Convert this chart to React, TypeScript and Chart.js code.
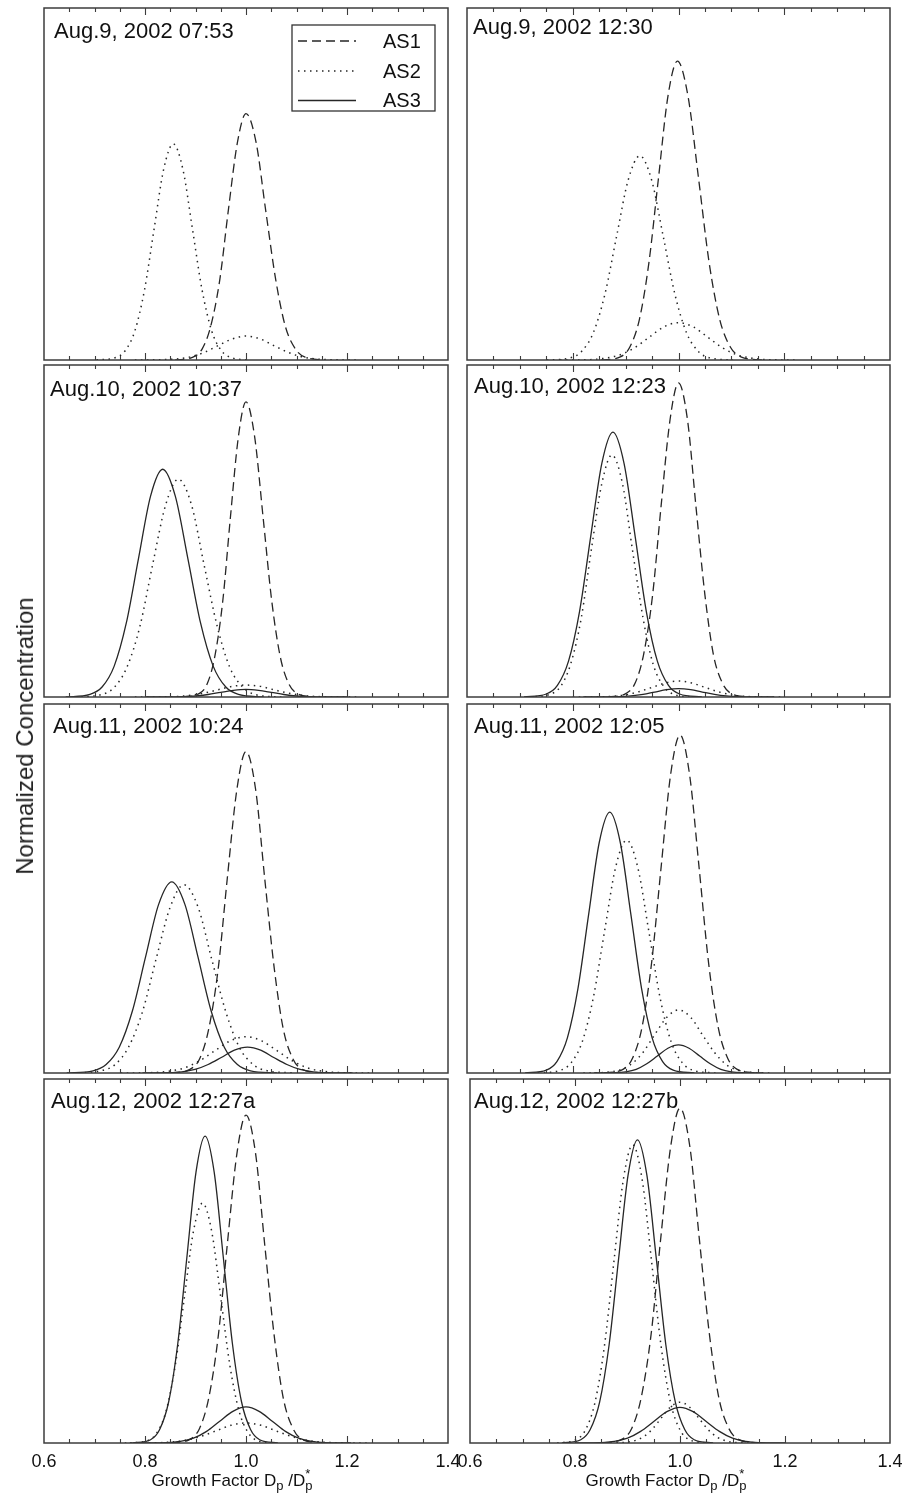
import React, { useEffect, useRef } from "react";
import { Chart, registerables } from "chart.js";

Chart.register(...registerables);

type Pt = [number, number];

// ---------- axis / labels ----------
const X_MIN = 0.6;
const X_MAX = 1.4;
const MAJOR_TICKS = [0.6, 0.8, 1.0, 1.2, 1.4];
const TICK_LABELS = ["0.6", "0.8", "1.0", "1.2", "1.4"];
const MINOR_TICKS = [0.65, 0.7, 0.75, 0.85, 0.9, 0.95, 1.05, 1.1, 1.15, 1.25, 1.3, 1.35];
const SERIES_NAMES = ["AS1", "AS2", "AS3"];
const Y_TITLE = "Normalized Concentration";
const PANEL_TITLES = [
  "Aug.9, 2002 07:53",
  "Aug.9, 2002 12:30",
  "Aug.10, 2002 10:37",
  "Aug.10, 2002 12:23",
  "Aug.11, 2002 10:24",
  "Aug.11, 2002 12:05",
  "Aug.12, 2002 12:27a",
  "Aug.12, 2002 12:27b",
];

// ---------- data: [growth factor, normalized concentration] ----------
const p1AS1: Pt[] = [[0.86,0],[0.895,0.008],[0.913,0.031],[0.93,0.095],[0.948,0.227],[0.965,0.425],[0.983,0.618],[1.0,0.7],[1.02,0.618],[1.039,0.425],[1.059,0.227],[1.078,0.095],[1.098,0.031],[1.117,0.008],[1.156,0]];
const p1AS2a: Pt[] = [[0.704,0],[0.742,0.007],[0.761,0.027],[0.78,0.083],[0.799,0.199],[0.818,0.372],[0.837,0.542],[0.856,0.614],[0.875,0.542],[0.894,0.372],[0.913,0.199],[0.932,0.083],[0.951,0.027],[0.97,0.007],[1.008,0]];
const p1AS2b: Pt[] = [[0.78,0],[0.835,0.001],[0.863,0.003],[0.89,0.009],[0.918,0.022],[0.945,0.041],[0.973,0.06],[1.0,0.068],[1.028,0.06],[1.055,0.041],[1.083,0.022],[1.11,0.009],[1.138,0.003],[1.165,0.001],[1.22,0]];

const p2AS1: Pt[] = [[0.854,0],[0.89,0.009],[0.908,0.037],[0.926,0.115],[0.944,0.276],[0.962,0.515],[0.98,0.749],[0.998,0.849],[1.018,0.749],[1.038,0.515],[1.058,0.276],[1.078,0.115],[1.098,0.037],[1.118,0.009],[1.158,0]];
const p2AS2a: Pt[] = [[0.751,0],[0.795,0.006],[0.817,0.025],[0.839,0.078],[0.861,0.188],[0.883,0.352],[0.905,0.512],[0.927,0.58],[0.949,0.512],[0.971,0.352],[0.993,0.188],[1.015,0.078],[1.037,0.025],[1.059,0.006],[1.103,0]];
const p2AS2b: Pt[] = [[0.776,0],[0.832,0.001],[0.86,0.005],[0.888,0.014],[0.916,0.034],[0.944,0.064],[0.972,0.094],[1.0,0.106],[1.028,0.094],[1.056,0.064],[1.084,0.034],[1.112,0.014],[1.14,0.005],[1.168,0.001],[1.224,0]];

const p3AS1: Pt[] = [[0.876,0],[0.907,0.01],[0.923,0.039],[0.938,0.12],[0.954,0.289],[0.969,0.539],[0.985,0.785],[1.0,0.889],[1.017,0.785],[1.034,0.539],[1.051,0.289],[1.068,0.12],[1.085,0.039],[1.102,0.01],[1.136,0]];
const p3AS3a: Pt[] = [[0.643,0],[0.691,0.008],[0.715,0.03],[0.739,0.093],[0.763,0.223],[0.787,0.416],[0.811,0.605],[0.835,0.686],[0.86,0.605],[0.885,0.416],[0.91,0.223],[0.935,0.093],[0.96,0.03],[0.985,0.008],[1.035,0]];
const p3AS2a: Pt[] = [[0.662,0],[0.713,0.007],[0.739,0.029],[0.764,0.089],[0.79,0.213],[0.815,0.398],[0.841,0.579],[0.866,0.656],[0.892,0.579],[0.917,0.398],[0.943,0.213],[0.968,0.089],[0.994,0.029],[1.019,0.007],[1.07,0]];
const p3AS2b: Pt[] = [[0.78,0],[0.835,0.0004],[0.863,0.0016],[0.89,0.005],[0.918,0.012],[0.945,0.022],[0.973,0.032],[1.0,0.036],[1.028,0.032],[1.055,0.022],[1.083,0.012],[1.11,0.005],[1.138,0.0016],[1.165,0.0004],[1.22,0]];
const p3AS3b: Pt[] = [[0.8,0],[0.85,0.0003],[0.875,0.001],[0.9,0.003],[0.925,0.0075],[0.95,0.014],[0.975,0.02],[1.0,0.023],[1.025,0.02],[1.05,0.014],[1.075,0.0075],[1.1,0.003],[1.125,0.001],[1.15,0.0003],[1.2,0]];

const p4AS1: Pt[] = [[0.868,0],[0.901,0.011],[0.918,0.042],[0.934,0.128],[0.951,0.307],[0.967,0.574],[0.984,0.835],[1.0,0.946],[1.017,0.835],[1.033,0.574],[1.05,0.307],[1.066,0.128],[1.083,0.042],[1.099,0.011],[1.132,0]];
const p4AS3a: Pt[] = [[0.708,0],[0.75,0.009],[0.771,0.035],[0.792,0.108],[0.813,0.259],[0.834,0.484],[0.855,0.704],[0.876,0.798],[0.897,0.704],[0.918,0.484],[0.939,0.259],[0.96,0.108],[0.981,0.035],[1.002,0.009],[1.044,0]];
const p4AS2a: Pt[] = [[0.718,0],[0.757,0.008],[0.777,0.032],[0.796,0.099],[0.816,0.237],[0.835,0.442],[0.855,0.643],[0.874,0.729],[0.894,0.643],[0.913,0.442],[0.933,0.237],[0.952,0.099],[0.972,0.032],[0.991,0.008],[1.03,0]];
const p4AS2b: Pt[] = [[0.8,0],[0.85,0.0005],[0.875,0.002],[0.9,0.0065],[0.925,0.016],[0.95,0.029],[0.975,0.042],[1.0,0.048],[1.025,0.042],[1.05,0.029],[1.075,0.016],[1.1,0.0065],[1.125,0.002],[1.15,0.0005],[1.2,0]];
const p4AS3b: Pt[] = [[0.82,0],[0.865,0.0003],[0.888,0.0011],[0.91,0.0034],[0.933,0.008],[0.955,0.015],[0.978,0.022],[1.0,0.025],[1.023,0.022],[1.045,0.015],[1.068,0.008],[1.09,0.0034],[1.113,0.0011],[1.135,0.0003],[1.18,0]];

const p5AS1: Pt[] = [[0.852,0],[0.889,0.01],[0.908,0.038],[0.926,0.118],[0.945,0.283],[0.963,0.528],[0.982,0.769],[1.0,0.871],[1.019,0.769],[1.037,0.528],[1.056,0.283],[1.074,0.118],[1.093,0.038],[1.111,0.01],[1.148,0]];
const p5AS3a: Pt[] = [[0.645,0],[0.697,0.006],[0.723,0.023],[0.749,0.07],[0.775,0.168],[0.801,0.314],[0.827,0.457],[0.853,0.518],[0.879,0.457],[0.905,0.314],[0.931,0.168],[0.957,0.07],[0.983,0.023],[1.009,0.006],[1.061,0]];
const p5AS2a: Pt[] = [[0.657,0],[0.712,0.006],[0.74,0.022],[0.767,0.069],[0.795,0.166],[0.822,0.309],[0.85,0.45],[0.877,0.51],[0.905,0.45],[0.932,0.309],[0.96,0.166],[0.987,0.069],[1.015,0.022],[1.042,0.006],[1.097,0]];
const p5AS3b: Pt[] = [[0.795,0],[0.847,0.0008],[0.873,0.003],[0.899,0.0095],[0.925,0.023],[0.951,0.042],[0.977,0.062],[1.003,0.07],[1.029,0.062],[1.055,0.042],[1.081,0.023],[1.107,0.0095],[1.133,0.003],[1.159,0.0008],[1.211,0]];
const p5AS2b: Pt[] = [[0.752,0],[0.814,0.0011],[0.845,0.0043],[0.876,0.013],[0.907,0.032],[0.938,0.06],[0.969,0.087],[1.0,0.0985],[1.031,0.087],[1.062,0.06],[1.093,0.032],[1.124,0.013],[1.155,0.0043],[1.186,0.0011],[1.248,0]];

const p6AS1: Pt[] = [[0.859,0],[0.895,0.01],[0.913,0.04],[0.931,0.124],[0.949,0.297],[0.967,0.556],[0.985,0.808],[1.003,0.916],[1.021,0.808],[1.039,0.556],[1.057,0.297],[1.075,0.124],[1.093,0.04],[1.111,0.01],[1.147,0]];
const p6AS3a: Pt[] = [[0.71,0],[0.75,0.008],[0.77,0.031],[0.79,0.096],[0.81,0.23],[0.83,0.429],[0.85,0.624],[0.87,0.707],[0.89,0.624],[0.91,0.429],[0.93,0.23],[0.95,0.096],[0.97,0.031],[0.99,0.008],[1.03,0]];
const p6AS2a: Pt[] = [[0.734,0],[0.776,0.007],[0.797,0.028],[0.818,0.085],[0.839,0.205],[0.86,0.383],[0.881,0.557],[0.902,0.631],[0.923,0.557],[0.944,0.383],[0.965,0.205],[0.986,0.085],[1.007,0.028],[1.028,0.007],[1.07,0]];
const p6AS2b: Pt[] = [[0.82,0],[0.865,0.002],[0.888,0.0075],[0.91,0.023],[0.933,0.056],[0.955,0.104],[0.978,0.151],[1.0,0.171],[1.023,0.151],[1.045,0.104],[1.068,0.056],[1.09,0.023],[1.113,0.0075],[1.135,0.002],[1.18,0]];
const p6AS3b: Pt[] = [[0.84,0],[0.88,0.0008],[0.9,0.0033],[0.92,0.01],[0.94,0.025],[0.96,0.046],[0.98,0.067],[1.0,0.076],[1.02,0.067],[1.04,0.046],[1.06,0.025],[1.08,0.01],[1.1,0.0033],[1.12,0.0008],[1.16,0]];

const p7AS1: Pt[] = [[0.852,0],[0.889,0.01],[0.908,0.04],[0.926,0.122],[0.945,0.293],[0.963,0.546],[0.982,0.795],[1.0,0.901],[1.019,0.795],[1.037,0.546],[1.056,0.293],[1.074,0.122],[1.093,0.04],[1.111,0.01],[1.148,0]];
const p7AS3a: Pt[] = [[0.775,0],[0.811,0.009],[0.829,0.037],[0.847,0.114],[0.865,0.274],[0.883,0.511],[0.901,0.744],[0.919,0.843],[0.937,0.744],[0.955,0.511],[0.973,0.274],[0.991,0.114],[1.009,0.037],[1.027,0.009],[1.063,0]];
const p7AS2a: Pt[] = [[0.77,0],[0.806,0.007],[0.824,0.029],[0.842,0.089],[0.86,0.214],[0.878,0.4],[0.896,0.582],[0.914,0.659],[0.932,0.582],[0.95,0.4],[0.968,0.214],[0.986,0.089],[1.004,0.029],[1.022,0.007],[1.058,0]];
const p7AS3b: Pt[] = [[0.792,0],[0.844,0.0011],[0.87,0.0043],[0.896,0.0134],[0.922,0.032],[0.948,0.06],[0.974,0.087],[1.0,0.099],[1.026,0.087],[1.052,0.06],[1.078,0.032],[1.104,0.0134],[1.13,0.0043],[1.156,0.0011],[1.208,0]];
const p7AS2b: Pt[] = [[0.76,0],[0.82,0.0006],[0.85,0.0024],[0.88,0.0074],[0.91,0.018],[0.94,0.033],[0.97,0.0485],[1.0,0.055],[1.03,0.0485],[1.06,0.033],[1.09,0.018],[1.12,0.0074],[1.15,0.0024],[1.18,0.0006],[1.24,0]];

const p8AS1: Pt[] = [[0.852,0],[0.889,0.01],[0.908,0.04],[0.926,0.124],[0.945,0.299],[0.963,0.558],[0.982,0.812],[1.0,0.92],[1.019,0.812],[1.037,0.558],[1.056,0.299],[1.074,0.124],[1.093,0.04],[1.111,0.01],[1.148,0]];
const p8AS3a: Pt[] = [[0.775,0],[0.811,0.009],[0.829,0.037],[0.847,0.113],[0.865,0.27],[0.883,0.505],[0.901,0.735],[0.919,0.833],[0.937,0.735],[0.955,0.505],[0.973,0.27],[0.991,0.113],[1.009,0.037],[1.027,0.009],[1.063,0]];
const p8AS2a: Pt[] = [[0.766,0],[0.802,0.009],[0.82,0.036],[0.838,0.111],[0.856,0.266],[0.874,0.497],[0.892,0.723],[0.91,0.819],[0.928,0.723],[0.946,0.497],[0.964,0.266],[0.982,0.111],[1.0,0.036],[1.018,0.009],[1.054,0]];
const p8AS3b: Pt[] = [[0.8,0],[0.85,0.0011],[0.875,0.0043],[0.9,0.0133],[0.925,0.032],[0.95,0.059],[0.975,0.086],[1.0,0.098],[1.025,0.086],[1.05,0.059],[1.075,0.032],[1.1,0.0133],[1.125,0.0043],[1.15,0.0011],[1.2,0]];
const p8AS2b: Pt[] = [[0.856,0],[0.892,0.0012],[0.91,0.0049],[0.928,0.015],[0.946,0.036],[0.964,0.068],[0.982,0.099],[1.0,0.112],[1.018,0.099],[1.036,0.068],[1.054,0.036],[1.072,0.015],[1.09,0.0049],[1.108,0.0012],[1.144,0]];

type SeriesName = "AS1" | "AS2" | "AS3";
const PANEL_CURVES: [SeriesName, Pt[]][][] = [
  [["AS1", p1AS1], ["AS2", p1AS2a], ["AS2", p1AS2b]],
  [["AS1", p2AS1], ["AS2", p2AS2a], ["AS2", p2AS2b]],
  [["AS1", p3AS1], ["AS3", p3AS3a], ["AS2", p3AS2a], ["AS2", p3AS2b], ["AS3", p3AS3b]],
  [["AS1", p4AS1], ["AS3", p4AS3a], ["AS2", p4AS2a], ["AS2", p4AS2b], ["AS3", p4AS3b]],
  [["AS1", p5AS1], ["AS3", p5AS3a], ["AS2", p5AS2a], ["AS3", p5AS3b], ["AS2", p5AS2b]],
  [["AS1", p6AS1], ["AS3", p6AS3a], ["AS2", p6AS2a], ["AS2", p6AS2b], ["AS3", p6AS3b]],
  [["AS1", p7AS1], ["AS3", p7AS3a], ["AS2", p7AS2a], ["AS3", p7AS3b], ["AS2", p7AS2b]],
  [["AS1", p8AS1], ["AS3", p8AS3a], ["AS2", p8AS2a], ["AS3", p8AS3b], ["AS2", p8AS2b]],
];

// ---------- styles & layout ----------
const INK = "#262626";
const FONT = '"Liberation Sans", Arial, Helvetica, sans-serif';
const LINE_STYLE: Record<SeriesName, { dash: number[]; width: number }> = {
  AS1: { dash: [9, 5], width: 1.3 },
  AS2: { dash: [1.5, 4.5], width: 1.5 },
  AS3: { dash: [], width: 1.3 },
};

type Box = { left: number; top: number; w: number; h: number; tx: number; ty: number; legend?: boolean; axis?: boolean };
const LAYOUT: Box[] = [
  { left: 44, top: 8, w: 404, h: 352, tx: 10, ty: 30, legend: true },
  { left: 467, top: 8, w: 423, h: 352, tx: 6, ty: 26 },
  { left: 44, top: 365, w: 404, h: 332, tx: 6, ty: 31 },
  { left: 467, top: 365, w: 423, h: 332, tx: 7, ty: 28 },
  { left: 44, top: 704, w: 404, h: 369, tx: 9, ty: 29 },
  { left: 467, top: 704, w: 423, h: 369, tx: 7, ty: 29 },
  { left: 44, top: 1079, w: 404, h: 364, tx: 7, ty: 29, axis: true },
  { left: 470, top: 1079, w: 420, h: 364, tx: 4, ty: 29, axis: true },
];
const PAD_X = 24;
const PAD_Y = 8;
const AXIS_EXTRA = 52;

function makeDecor(box: Box, title: string) {
  return {
    id: "panelDecor",
    afterDatasetsDraw(chart: any) {
      const { ctx, chartArea: a } = chart;
      const xs = chart.scales.x;
      ctx.save();
      ctx.setLineDash([]);
      ctx.strokeStyle = "#3c3c3c";
      ctx.lineWidth = 1.5;
      ctx.strokeRect(a.left, a.top, a.right - a.left, a.bottom - a.top);

      ctx.lineWidth = 1.1;
      const tick = (v: number, len: number) => {
        const px = Math.round(xs.getPixelForValue(v)) + 0.5;
        ctx.beginPath();
        ctx.moveTo(px, a.top);
        ctx.lineTo(px, a.top + len);
        ctx.moveTo(px, a.bottom);
        ctx.lineTo(px, a.bottom - len);
        ctx.stroke();
      };
      MINOR_TICKS.forEach((v) => tick(v, 4));
      MAJOR_TICKS.slice(1, -1).forEach((v) => tick(v, 7));

      ctx.fillStyle = "#111";
      ctx.font = `22px ${FONT}`;
      ctx.textAlign = "left";
      ctx.textBaseline = "alphabetic";
      ctx.fillText(title, a.left + box.tx, a.top + box.ty);

      if (box.legend) {
        const lx = a.left + 248;
        const ly = a.top + 17;
        ctx.strokeStyle = "#333";
        ctx.lineWidth = 1.3;
        ctx.strokeRect(lx, ly, 143, 86);
        const rows = [16, 46, 75.5];
        SERIES_NAMES.forEach((name, i) => {
          const st = LINE_STYLE[name as SeriesName];
          ctx.strokeStyle = INK;
          ctx.lineWidth = st.width;
          ctx.setLineDash(st.dash);
          ctx.beginPath();
          ctx.moveTo(lx + 6, ly + rows[i]);
          ctx.lineTo(lx + 64, ly + rows[i]);
          ctx.stroke();
          ctx.setLineDash([]);
          ctx.fillStyle = "#111";
          ctx.font = `20px ${FONT}`;
          ctx.textBaseline = "middle";
          ctx.fillText(name, lx + 91, ly + rows[i] + 1);
        });
        ctx.textBaseline = "alphabetic";
      }

      if (box.axis) {
        ctx.fillStyle = "#111";
        ctx.font = `18px ${FONT}`;
        ctx.textAlign = "center";
        MAJOR_TICKS.forEach((v, i) => {
          ctx.fillText(TICK_LABELS[i], xs.getPixelForValue(v), a.bottom + 24);
        });
        // axis title: Growth Factor D_p /D_p^*
        const big = `17px ${FONT}`;
        const small = `13px ${FONT}`;
        const parts: { t: string; f: string; dy: number; stackNext?: boolean }[] = [
          { t: "Growth Factor D", f: big, dy: 0 },
          { t: "p", f: small, dy: 4 },
          { t: " /D", f: big, dy: 0 },
          { t: "p", f: small, dy: 4, stackNext: true },
          { t: "*", f: small, dy: -8 },
        ];
        ctx.textAlign = "left";
        let total = 0;
        const widths = parts.map((p) => {
          ctx.font = p.f;
          return ctx.measureText(p.t).width;
        });
        parts.forEach((p, i) => {
          if (!parts[i - 1]?.stackNext) total += widths[i];
        });
        const cx = (a.left + a.right) / 2 - 14;
        let x = cx - total / 2;
        const base = a.bottom + 43;
        parts.forEach((p, i) => {
          ctx.font = p.f;
          const prevStack = parts[i - 1]?.stackNext;
          const drawX = prevStack ? x - widths[i - 1] : x;
          ctx.fillText(p.t, drawX, base + p.dy);
          if (!prevStack) x += widths[i];
        });
      }
      ctx.restore();
    },
  };
}

function Panel({ index }: { index: number }) {
  const ref = useRef<HTMLCanvasElement | null>(null);
  const box = LAYOUT[index];
  const extra = box.axis ? AXIS_EXTRA : 0;
  const cw = box.w + PAD_X * 2;
  const chh = box.h + PAD_Y * 2 + extra;

  useEffect(() => {
    if (!ref.current) return;
    const datasets = PANEL_CURVES[index].map(([name, pts]) => ({
      label: name,
      data: pts.map(([x, y]) => ({ x, y })),
      borderColor: INK,
      borderWidth: LINE_STYLE[name].width,
      borderDash: LINE_STYLE[name].dash,
      pointRadius: 0,
      fill: false,
      cubicInterpolationMode: "monotone" as const,
    }));
    const chart = new Chart(ref.current, {
      type: "line",
      data: { datasets },
      options: {
        responsive: false,
        animation: false,
        events: [],
        layout: { padding: { left: PAD_X, right: PAD_X, top: PAD_Y, bottom: PAD_Y + extra } },
        plugins: { legend: { display: false }, tooltip: { enabled: false }, title: { display: false } },
        scales: {
          x: { type: "linear", min: X_MIN, max: X_MAX, display: false },
          y: { type: "linear", min: 0, max: 1, display: false },
        },
      },
      plugins: [makeDecor(box, PANEL_TITLES[index])],
    });
    return () => chart.destroy();
  }, [index]);

  return (
    <canvas
      ref={ref}
      width={cw}
      height={chh}
      style={{ position: "absolute", left: box.left - PAD_X, top: box.top - PAD_Y, width: cw, height: chh }}
    />
  );
}

export default function App() {
  return (
    <div style={{ position: "absolute", left: 0, top: 0, width: 905, height: 1497, background: "#fff", overflow: "hidden" }}>
      {LAYOUT.map((_, i) => (
        <Panel key={i} index={i} />
      ))}
      <div
        style={{
          position: "absolute",
          left: 25,
          top: 736,
          transform: "translate(-50%, -50%) rotate(-90deg)",
          whiteSpace: "nowrap",
          fontFamily: FONT,
          fontSize: 24,
          color: "#222",
        }}
      >
        {Y_TITLE}
      </div>
    </div>
  );
}
